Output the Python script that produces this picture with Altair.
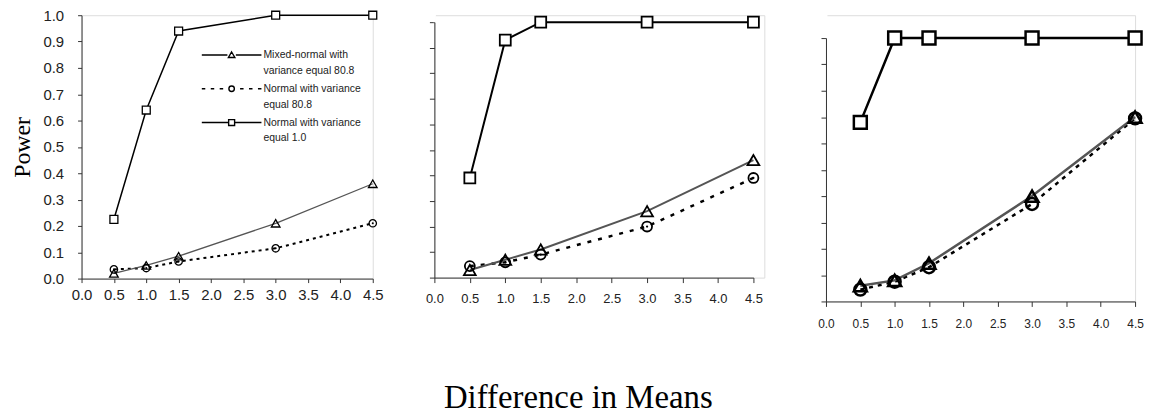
import altair as alt
import pandas as pd

# ---------------- data ----------------
x_vals = [0.5, 1.0, 1.5, 3.0, 4.5]
series_names = [
    "Mixed-normal with variance equal 80.8",
    "Normal with variance equal 80.8",
    "Normal with variance equal 1.0",
]
legend_lines = [
    ["Mixed-normal with", "variance equal 80.8"],
    ["Normal with variance", "equal 80.8"],
    ["Normal with variance", "equal 1.0"],
]
x_ticks = [0.0, 0.5, 1.0, 1.5, 2.0, 2.5, 3.0, 3.5, 4.0, 4.5]
y_ticks = [0.0, 0.1, 0.2, 0.3, 0.4, 0.5, 0.6, 0.7, 0.8, 0.9, 1.0]

p1_mixed = [0.02, 0.05, 0.085, 0.21, 0.36]
p1_normal_808 = [0.035, 0.04, 0.065, 0.115, 0.21]
p1_normal_1 = [0.225, 0.64, 0.94, 1.0, 1.0]

p2_mixed = [0.03, 0.07, 0.11, 0.26, 0.46]
p2_normal_808 = [0.045, 0.06, 0.09, 0.20, 0.39]
p2_normal_1 = [0.39, 0.93, 1.0, 1.0, 1.0]

p3_mixed = [0.06, 0.08, 0.145, 0.40, 0.70]
p3_normal_808 = [0.045, 0.075, 0.13, 0.37, 0.695]
p3_normal_1 = [0.68, 1.0, 1.0, 1.0, 1.0]

# ---------------- styles ----------------
SANS = "Liberation Sans"
SERIF = "Liberation Serif"
AX = "#333333"
GRAY = "#555555"


def legend_paths(d=0.0):
    def f(v):
        return f"{v:.2f}"
    tri = (f"M-6,{f(d)}L-0.85,{f(d)}M0.85,{f(d)}L6,{f(d)}"
           f"M0,{f(d-0.6)}L0.65,{f(d+0.5)}L-0.65,{f(d+0.5)}Z")
    dash = ""
    for a, b in [(-6, -5.3), (-4.2, -3.5), (-2.4, -1.7), (1.7, 2.4), (3.5, 4.2), (5.3, 6)]:
        dash += f"M{a},{f(d)}L{b},{f(d)}"
    circ = dash + (f"M0.55,{f(d)}A0.55,0.55,0,1,1,-0.55,{f(d)}"
                   f"A0.55,0.55,0,1,1,0.55,{f(d)}Z")
    sq = (f"M-6,{f(d)}L-0.6,{f(d)}M0.6,{f(d)}L6,{f(d)}"
          f"M-0.6,{f(d-0.6)}L0.6,{f(d-0.6)}L0.6,{f(d+0.6)}L-0.6,{f(d+0.6)}Z")
    return [tri, circ, sq]


def label_expr():
    expr = ""
    for name, lines in zip(series_names[:-1], legend_lines[:-1]):
        expr += f"datum.label == '{name}' ? ['{lines[0]}', '{lines[1]}'] : "
    last = legend_lines[-1]
    expr += f"['{last[0]}', '{last[1]}']"
    return expr


def panel(mixed, n808, n1, cfg):
    df = pd.DataFrame({"x": x_vals, "mixed": mixed, "n808": n808, "n1": n1})
    xsargs = dict(domain=[0, 4.5], nice=False, zero=False)
    if cfg.get("xrange"):
        xsargs["range"] = cfg["xrange"]
    xs = alt.Scale(**xsargs)
    ysargs = dict(domain=[0, 1.0], nice=False, zero=False)
    if cfg.get("yrange"):
        ysargs["range"] = cfg["yrange"]
    ys = alt.Scale(**ysargs)
    xaxis = alt.Axis(values=x_ticks, format=".1f", title=None, grid=False,
                     tickSize=cfg["tick"], labelFontSize=cfg["lfs"],
                     labelPadding=cfg["xpad"], labelFont=SANS, labelColor="#222",
                     domainColor=AX, tickColor=AX, labelFlush=False,
                     labelOverlap=False)
    yaxis = alt.Axis(values=y_ticks, format=".1f", grid=False,
                     title=cfg.get("ytitle", None),
                     titleFont=SERIF, titleFontSize=24, titleFontWeight="normal",
                     titleColor="black", titlePadding=9,
                     labels=cfg["ylabels"], domain=True,
                     tickSize=cfg["tick"], labelFontSize=cfg["lfs"],
                     labelPadding=cfg["ypad"], labelFont=SANS, labelColor="#222",
                     domainColor=AX, tickColor=AX, labelOverlap=False)
    X = alt.X("x:Q", scale=xs, axis=xaxis)

    def Y(field):
        return alt.Y(f"{field}:Q", scale=ys, axis=yaxis)

    base = alt.Chart(df)
    layers = []
    if cfg.get("ymask"):
        # white cover above the top tick so the axis line stops at 1.0
        mask_df = pd.DataFrame({"x": [x_ticks[0]], "y0": [y_ticks[-1]], "y1": [cfg["ymask"]]})
        layers.append(
            alt.Chart(mask_df).mark_rule(color="white", strokeWidth=3).encode(
                x=X, y=Y("y0"), y2="y1:Q"
            )
        )
    layers.append(base.mark_line(color="black", strokeWidth=cfg["dw"],
                                 strokeDash=cfg["dash"]).encode(x=X, y=Y("n808")))
    layers.append(base.mark_line(color=GRAY, strokeWidth=cfg["mw"]).encode(x=X, y=Y("mixed")))
    layers.append(base.mark_line(color="black", strokeWidth=cfg["sw"]).encode(x=X, y=Y("n1")))
    layers.append(base.mark_point(shape="circle", filled=False, stroke="black", opacity=1,
                                  strokeWidth=cfg["pw"], size=cfg["cs"]).encode(x=X, y=Y("n808")))
    if cfg["dot"]:
        layers.append(base.mark_point(shape="circle", filled=True, color="black", opacity=1,
                                      size=cfg["dot"]).encode(x=X, y=Y("n808")))
    layers.append(base.mark_point(shape="triangle-up", filled=False, stroke="black", opacity=1,
                                  strokeWidth=cfg["pw"], size=cfg["ts"]).encode(x=X, y=Y("mixed")))
    layers.append(base.mark_point(shape="square", filled=True, fill="white", stroke="black",
                                  opacity=1, strokeWidth=cfg["pw"], size=cfg["ss"]).encode(x=X, y=Y("n1")))
    if cfg.get("legend"):
        leg = alt.Chart(pd.DataFrame({"series": series_names})).mark_point(
            size=100, filled=False, color="black", opacity=1, strokeWidth=1.4
        ).encode(
            shape=alt.Shape(
                "series:N",
                scale=alt.Scale(domain=series_names, range=legend_paths()),
                legend=alt.Legend(
                    title=None, orient="none", legendX=145, legendY=34,
                    labelExpr=label_expr(), labelFont=SANS, labelFontSize=10.5,
                    labelColor="#222", labelOffset=26, labelLimit=300,
                    rowPadding=6, symbolSize=100, symbolStrokeColor="black",
                    symbolFillColor="transparent", symbolStrokeWidth=1.4,
                    padding=0,
                ),
            )
        ).transform_filter("false")
        layers.append(leg)
    return alt.layer(*layers).properties(width=cfg["w"], height=cfg["h"])


cfg1 = dict(w=293, h=265, tick=4, lfs=15, xpad=5, ypad=14, ylabels=True,
            ytitle="Power", dw=2, dash=[3, 4], mw=1.3, sw=1.5, pw=1.3,
            cs=55, dot=4, ts=75, ss=64, legend=True)
cfg2 = dict(w=332, h=264, xrange=[0, 321], yrange=[264, 7], tick=5, lfs=13, xpad=10,
            ypad=4, ylabels=False, dw=2.5, dash=[4, 7], mw=2, sw=2, pw=1.8,
            cs=100, dot=5, ts=140, ss=121, ymask=1.03)
cfg3 = dict(w=311, h=288, yrange=[288, 23], tick=5, lfs=12, xpad=12, ypad=4,
            ylabels=False, dw=2.5, dash=[4, 5], mw=2.5,
            sw=2.5, pw=2.5, cs=144, dot=0, ts=169, ss=169, ymask=1.09)

p1 = panel(p1_mixed, p1_normal_808, p1_normal_1, cfg1)
p2 = panel(p2_mixed, p2_normal_808, p2_normal_1, cfg2)
p3 = panel(p3_mixed, p3_normal_808, p3_normal_1, cfg3)

chart = alt.hconcat(p1, p2, p3, spacing=62, bounds="flush").properties(
    title=alt.TitleParams("Difference in Means", orient="bottom", anchor="middle",
                          frame="bounds", font=SERIF, fontSize=33, fontWeight="normal",
                          color="black", offset=53),
    padding={"left": 1, "top": -2, "right": 0, "bottom": 0},
).configure_view(
    stroke="transparent", strokeWidth=0, strokeOpacity=0
).configure(
    background="white",
    style={"guide-label": {"lineHeight": 16}},
)

chart.save("out.html", embed_options={"renderer": "svg", "actions": False})
